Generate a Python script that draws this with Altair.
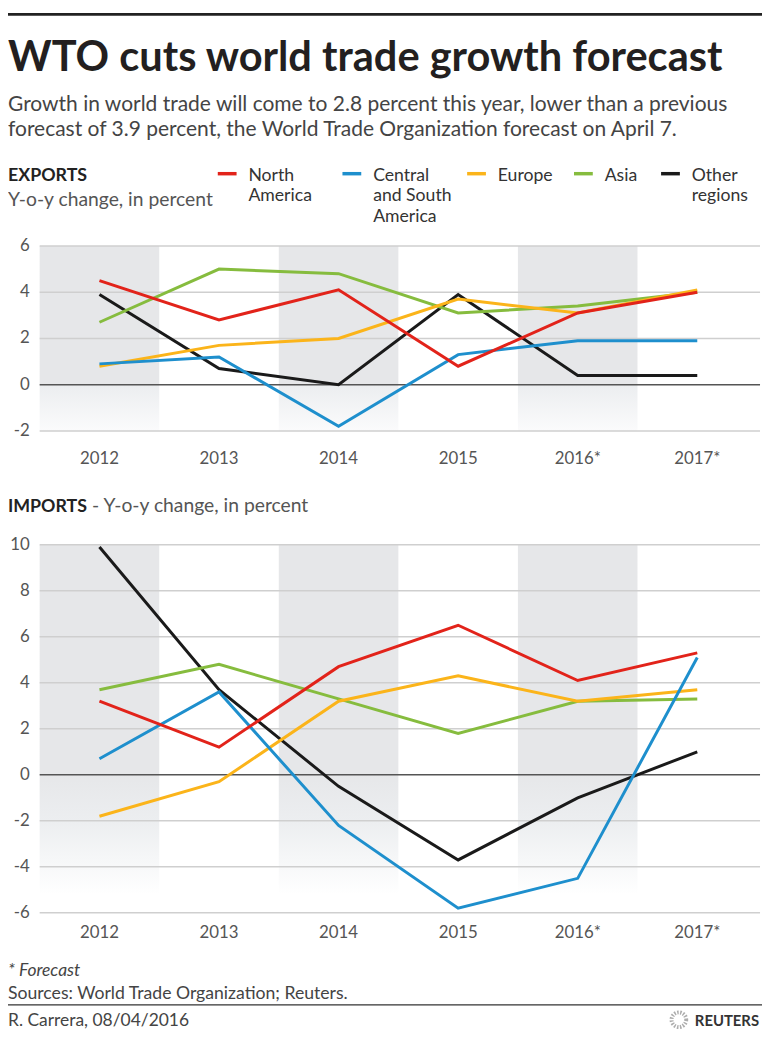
import altair as alt
import pandas as pd

# ---------------- data ----------------
years = ["2012", "2013", "2014", "2015", "2016*", "2017*"]
regions = ["North America", "Central and South America", "Europe", "Asia", "Other regions"]
region_colors = ["#e2231a", "#1e8fcd", "#fbb41a", "#86bc3e", "#1a1a1a"]
legend_lines = [["North", "America"], ["Central", "and South", "America"], ["Europe"], ["Asia"], ["Other", "regions"]]

exp_north_america = [4.5, 2.8, 4.1, 0.8, 3.1, 4.0]
exp_central_south = [0.9, 1.2, -1.8, 1.3, 1.9, 1.9]
exp_europe = [0.8, 1.7, 2.0, 3.7, 3.1, 4.1]
exp_asia = [2.7, 5.0, 4.8, 3.1, 3.4, 4.0]
exp_other = [3.9, 0.7, 0.0, 3.9, 0.4, 0.4]

imp_north_america = [3.2, 1.2, 4.7, 6.5, 4.1, 5.3]
imp_central_south = [0.7, 3.6, -2.2, -5.8, -4.5, 5.1]
imp_europe = [-1.8, -0.3, 3.2, 4.3, 3.2, 3.7]
imp_asia = [3.7, 4.8, 3.3, 1.8, 3.2, 3.3]
imp_other = [9.9, 3.7, -0.5, -3.7, -1.0, 1.0]

shaded_years = ["2012", "2014", "2016*"]
exp_domain = [-2, 6]
imp_domain = [-6, 10]
exp_ticks = [-2, 0, 2, 4, 6]
imp_ticks = [-6, -4, -2, 0, 2, 4, 6, 8, 10]

title_text = "WTO cuts world trade growth forecast"
subtitle_lines = [
    "Growth in world trade will come to 2.8 percent this year, lower than a previous",
    "forecast of 3.9 percent, the World Trade Organization forecast on April 7.",
]
footer_note = "* Forecast"
footer_source = "Sources: World Trade Organization; Reuters."
footer_credit = "R. Carrera, 08/04/2016"

# ---------------- tables ----------------
def long_table(series):
    rows = []
    for reg, vals in zip(regions, series):
        for y, v in zip(years, vals):
            rows.append({"year": y, "region": reg, "value": v})
    return pd.DataFrame(rows)

exp_df = long_table([exp_north_america, exp_central_south, exp_europe, exp_asia, exp_other])
imp_df = long_table([imp_north_america, imp_central_south, imp_europe, imp_asia, imp_other])

FONT = "Lato"
W, H = 762, 1027
X0, X1 = 32, 757
one = pd.DataFrame({"k": [1]})

x_scale = alt.Scale(type="band", domain=years, range=[X0, X1], paddingInner=0, paddingOuter=0)
color_scale = alt.Scale(domain=regions, range=region_colors)


def T(s, x, y, size, color="#333333", weight="normal", style="normal", align="left", line_height=None):
    kw = dict(
        text=s, align=align, baseline="alphabetic", font=FONT, fontSize=size,
        fontWeight=weight, fontStyle=style, color=color,
    )
    if line_height is not None:
        kw["lineHeight"] = line_height
    return alt.Chart(one).mark_text(**kw).encode(x=alt.value(x), y=alt.value(y))


def panel(df, domain, ticks, y_range, stops, xlab_y):
    ysc = alt.Scale(domain=domain, range=y_range, nice=False, zero=False)
    bg = alt.Chart(pd.DataFrame({"year": shaded_years, "top": domain[1], "bottom": domain[0]})).mark_rect(
        fill=alt.LinearGradient(
            gradient="linear", x1=0, y1=0, x2=0, y2=1,
            stops=[alt.GradientStop(offset=o, color=c) for o, c in stops],
        )
    ).encode(
        x=alt.X("year:N", scale=x_scale, axis=None),
        y=alt.Y("top:Q", scale=ysc, axis=None),
        y2="bottom:Q",
    )
    tick_df = pd.DataFrame({"t": ticks, "lab": [str(t) for t in ticks]})
    grid = alt.Chart(tick_df[tick_df.t != 0]).mark_rule(color="#cfcfcf", strokeWidth=1.5).encode(
        y=alt.Y("t:Q", scale=ysc, axis=None), x=alt.value(X0), x2=alt.value(X1 + 3)
    )
    zero = alt.Chart(tick_df[tick_df.t == 0]).mark_rule(color="#555555", strokeWidth=1.5).encode(
        y=alt.Y("t:Q", scale=ysc, axis=None), x=alt.value(X0), x2=alt.value(X1 + 3)
    )
    ylab = alt.Chart(tick_df).mark_text(
        align="right", baseline="middle", font=FONT, fontSize=17, color="#555555"
    ).encode(y=alt.Y("t:Q", scale=ysc, axis=None), x=alt.value(22), text="lab:N")
    xlab = alt.Chart(pd.DataFrame({"year": years})).mark_text(
        align="center", baseline="alphabetic", font=FONT, fontSize=17, color="#555555"
    ).encode(x=alt.X("year:N", scale=x_scale, axis=None), y=alt.value(xlab_y), text="year:N")
    order = ["Other regions", "Asia", "Europe", "Central and South America", "North America"]
    lines = [
        alt.Chart(df[df.region == r]).mark_line(strokeWidth=3, strokeJoin="miter").encode(
            x=alt.X("year:N", scale=x_scale, axis=None),
            y=alt.Y("value:Q", scale=ysc, axis=None),
            color=alt.Color("region:N", scale=color_scale, legend=None),
        )
        for r in order
    ]
    return alt.layer(bg, grid, zero, *lines, ylab, xlab)


exp_stops = [(0, "#e6e7e9"), (0.75, "#e6e7e9"), (0.76, "#eceef0"), (1.0, "#fbfbfc")]
imp_stops = [(0, "#e6e7e9"), (0.62, "#e6e7e9"), (0.75, "#eceef0"), (0.95, "#ffffff"), (1.0, "#ffffff")]

exports = panel(exp_df, exp_domain, exp_ticks, [422, 235], exp_stops, 455)
imports = panel(imp_df, imp_domain, imp_ticks, [909, 537], imp_stops, 934)

# ---------------- header ----------------
header = [
    alt.Chart(one).mark_rule(color="#222222", strokeWidth=3).encode(
        x=alt.value(0), x2=alt.value(W), y=alt.value(1)
    ),
    T(title_text, 0, 58, 42, color="#231f20", weight="bold"),
    T(subtitle_lines[0], 0, 99, 21.2, color="#444444"),
    T(subtitle_lines[1], 0, 124, 21.2, color="#444444"),
    T("EXPORTS", 0, 169, 18, color="#222222", weight="bold"),
    T("Y-o-y change, in percent", 0, 195, 19.5, color="#555555"),
    T("IMPORTS", 0, 504, 18, color="#222222", weight="bold"),
    T("- Y-o-y change, in percent", 85, 504, 19.5, color="#555555"),
]

legend_x = [243, 369, 495, 603, 691]
legend = []
for reg, col, lx, lines in zip(regions, region_colors, legend_x, legend_lines):
    legend.append(
        alt.Chart(one).mark_rule(color=col, strokeWidth=3.5).encode(
            x=alt.value(lx - 31), x2=alt.value(lx - 12), y=alt.value(162)
        )
    )
    legend.append(T(lines if len(lines) > 1 else lines[0], lx, 169, 17.8,
                    color="#333333", line_height=21))

footer = [
    T(footer_note, 0, 973, 17.6, color="#444444", style="italic"),
    T(footer_source, 0, 996, 17.8, color="#444444"),
    alt.Chart(one).mark_rule(color="#333333", strokeWidth=1.5).encode(
        x=alt.value(0), x2=alt.value(W), y=alt.value(1002)
    ),
    T(footer_credit, 0, 1023, 17.6, color="#444444"),
    alt.Chart(one).mark_point(shape="circle", size=220, filled=False, strokeWidth=4,
                              strokeDash=[1.5, 1.5], color="#8a8a8a").encode(
        x=alt.value(678), y=alt.value(1017)
    ),
    T("REUTERS", 759, 1023, 15, color="#333333", weight="bold", align="right"),
]

chart = alt.layer(*header, *legend, exports, imports, *footer).resolve_scale(
    y="independent"
).properties(
    width=W, height=H, autosize=alt.AutoSizeParams(type="none"), padding=0
).configure_view(stroke=None)

chart.save("out.html", embed_options={"renderer": "svg", "actions": False})
